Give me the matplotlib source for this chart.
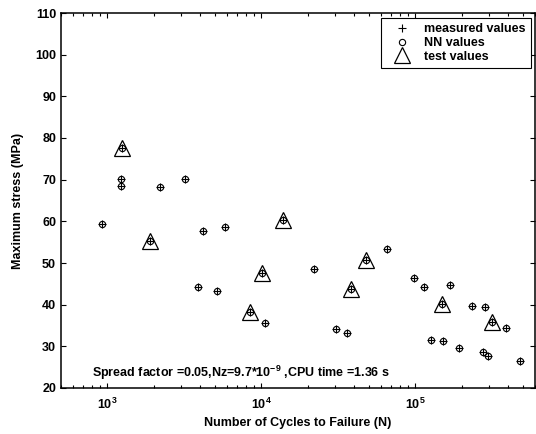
import matplotlib
matplotlib.use("Agg")
import matplotlib.pyplot as plt
import numpy as np

plt.rcParams['font.family'] = ['Liberation Sans', 'DejaVu Sans']
plt.rcParams['font.weight'] = 'bold'
plt.rcParams['mathtext.fontset'] = 'custom'
plt.rcParams['mathtext.rm'] = 'Liberation Sans:bold'
plt.rcParams['mathtext.bf'] = 'Liberation Sans:bold'
plt.rcParams['mathtext.it'] = 'Liberation Sans:bold'
plt.rcParams['mathtext.default'] = 'bf'

# Measured / NN values (cycles, stress MPa)
cycles = [924, 1230, 1230, 2210, 3190, 3855, 4160, 5150, 5780, 10610,
          21980, 30550, 35810, 65170, 98130, 113200, 127000, 152000, 169400,
          192300, 233200, 276500, 285000, 295000, 388300, 480600]
stress = [59.3, 70.2, 68.6, 68.3, 70.2, 44.2, 57.6, 43.2, 58.6, 35.6,
          48.6, 34.2, 33.3, 53.4, 46.5, 44.2, 31.6, 31.2, 44.8,
          29.6, 39.8, 28.7, 39.5, 27.8, 34.3, 26.6]

# Test values
test_cycles = [1246, 1884, 8489, 10150, 13740, 38200, 47800, 149000, 314800]
test_stress = [77.5, 55.2, 38.2, 47.6, 60.4, 43.8, 50.8, 40.1, 35.9]

# NN predictions coincide with measured/test points
nn_cycles = cycles + test_cycles
nn_stress = stress + test_stress
meas_cycles = cycles + test_cycles
meas_stress = stress + test_stress

y_ticks = [20, 30, 40, 50, 60, 70, 80, 90, 100, 110]
x_ticks = [1e3, 1e4, 1e5]
x_tick_labels = ['$10^{3}$', '$10^{4}$', '$10^{5}$']

fig = plt.figure(figsize=(5.36, 4.34), dpi=100)
ax = fig.add_axes([61/536, (434-388)/434, (535-61)/536, (388-13)/434])

ax.plot(meas_cycles, meas_stress, linestyle='none', marker='+', color='black',
        markersize=6, markeredgewidth=0.8, label='measured values')
ax.plot(nn_cycles, nn_stress, linestyle='none', marker='o', markerfacecolor='none',
        markeredgecolor='black', markersize=4.5, markeredgewidth=0.8, label='NN values')
ax.plot(test_cycles, test_stress, linestyle='none', marker='^', markerfacecolor='none',
        markeredgecolor='black', markersize=11, markeredgewidth=0.9, label='test values')

ax.set_xscale('log')
ax.set_xlim(500, 6e5)
ax.set_ylim(20, 110)
ax.set_yticks(y_ticks)
ax.set_yticklabels([str(v) for v in y_ticks])
ax.set_xticks(x_ticks)
ax.set_xticklabels(x_tick_labels)

ax.tick_params(which='both', direction='in', top=True, right=True, labelsize=9)
ax.tick_params(axis='x', which='major', pad=6)
ax.tick_params(which='major', length=3.5, width=0.8)
ax.tick_params(which='minor', length=2, width=0.8)
for s in ax.spines.values():
    s.set_linewidth(1.1)

ax.set_xlabel('Number of Cycles to Failure (N)', fontsize=9, fontweight='bold', labelpad=4)
ax.set_ylabel('Maximum stress (MPa)', fontsize=9, fontweight='bold', labelpad=8)

ax.text(0.065, 0.04, 'Spread factor =0.05,Nz=9.7*10$^{-9}$ ,CPU time =1.36 s',
        transform=ax.transAxes, fontsize=9, fontweight='bold', va='center', ha='left')

leg = ax.legend(loc='upper right', bbox_to_anchor=(0.992, 0.987), fontsize=9,
                frameon=True, fancybox=False, edgecolor='black', framealpha=1,
                borderpad=0.45, labelspacing=0.12, handletextpad=0.6, handlelength=2.4,
                borderaxespad=0)
leg.get_frame().set_linewidth(0.8)

fig.savefig('out.png', dpi=100)
